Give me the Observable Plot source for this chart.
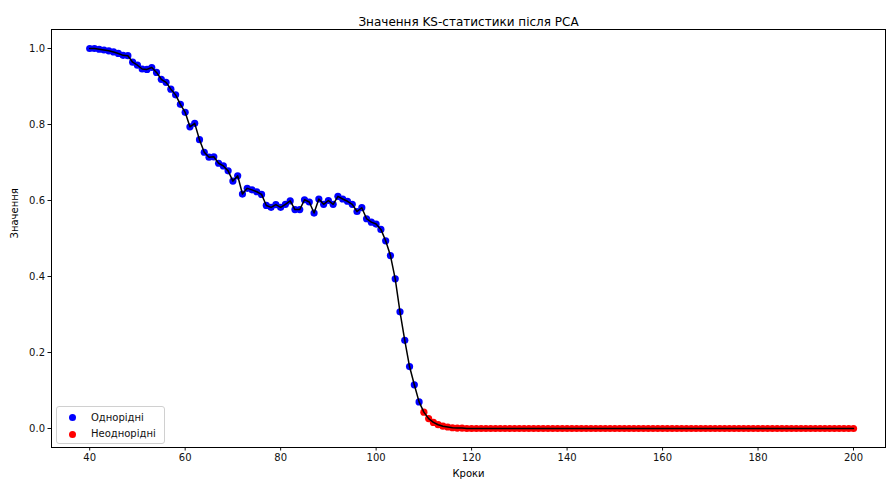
<!DOCTYPE html>
<html>
<head>
<meta charset="utf-8">
<script src="https://cdn.jsdelivr.net/npm/d3@7"></script>
<script src="https://cdn.jsdelivr.net/npm/@observablehq/plot@0.6"></script>
<style>
  html, body { margin: 0; padding: 0; background: #fff; }
  #wrap { position: relative; width: 886px; height: 484px; font-family: "DejaVu Sans", sans-serif; }
  #legend { position: absolute; left: 56px; top: 406px; width: 107px; height: 36px;
    border: 1px solid #d0d0d0; border-radius: 3px; background: rgba(255,255,255,0.8);
    font-size: 10px; color: #111; }
  .item { position: absolute; left: 0; height: 14px; line-height: 14px; }
  .sw { position: absolute; left: 12px; top: 3.5px; width: 7px; height: 7px; border-radius: 50%; }
  .lb { position: absolute; left: 34px; top: 0; white-space: nowrap; }
</style>
</head>
<body>
<div id="wrap"></div>
<script>
const steps = [40,41,42,43,44,45,46,47,48,49,50,51,52,53,54,55,56,57,58,59,
  60,61,62,63,64,65,66,67,68,69,70,71,72,73,74,75,76,77,78,79,
  80,81,82,83,84,85,86,87,88,89,90,91,92,93,94,95,96,97,98,99,
  100,101,102,103,104,105,106,107,108,109,110,111,112,113,114,115,116,117,118,119,
  120,121,122,123,124,125,126,127,128,129,130,131,132,133,134,135,136,137,138,139,
  140,141,142,143,144,145,146,147,148,149,150,151,152,153,154,155,156,157,158,159,
  160,161,162,163,164,165,166,167,168,169,170,171,172,173,174,175,176,177,178,179,
  180,181,182,183,184,185,186,187,188,189,190,191,192,193,194,195,196,197,198,199,200];

// steps 40..109 (homogeneous)
const homValues = [1.000,1.000,0.998,0.996,0.994,0.991,0.987,0.982,0.981,0.964,
  0.956,0.946,0.945,0.950,0.937,0.919,0.911,0.893,0.878,0.853,
  0.832,0.794,0.803,0.760,0.727,0.714,0.715,0.698,0.691,0.678,
  0.651,0.665,0.617,0.632,0.628,0.623,0.616,0.587,0.582,0.589,
  0.582,0.590,0.599,0.576,0.576,0.602,0.596,0.567,0.604,0.590,
  0.600,0.590,0.611,0.604,0.598,0.590,0.571,0.581,0.552,0.543,
  0.538,0.524,0.494,0.455,0.394,0.307,0.232,0.163,0.115,0.070];

// steps 110..200 (heterogeneous)
const hetValues = [0.043,0.026,0.016,0.010,0.006,0.004,0.002,0.001,0.001,0,
  0,0,0,0,0,0,0,0,0,0,
  0,0,0,0,0,0,0,0,0,0,
  0,0,0,0,0,0,0,0,0,0,
  0,0,0,0,0,0,0,0,0,0,
  0,0,0,0,0,0,0,0,0,0,
  0,0,0,0,0,0,0,0,0,0,
  0,0,0,0,0,0,0,0,0,0,
  0,0,0,0,0,0,0,0,0,0,0];

const groups = ["Однорідні", "Неоднорідні"];
const groupColors = ["#0000ff", "#ff0000"];
const xTicks = [40, 60, 80, 100, 120, 140, 160, 180, 200];
const yTicks = [0.0, 0.2, 0.4, 0.6, 0.8, 1.0];
const title = "Значення KS-статистики після PCA";
const xLabel = "Кроки";
const yLabel = "Значення";

const rows = steps.map((s, i) => ({
  step: s,
  value: i < homValues.length ? homValues[i] : hetValues[i - homValues.length],
  group: i < homValues.length ? groups[0] : groups[1]
}));

const chart = Plot.plot({
  width: 886,
  height: 484,
  marginLeft: 51,
  marginRight: 1,
  marginTop: 29,
  marginBottom: 37,
  style: { fontFamily: "DejaVu Sans, sans-serif", fontSize: "10px", color: "#111", background: "#fff" },
  x: { domain: [32, 206.7] },
  y: { domain: [-0.05, 1.05] },
  color: { domain: groups, range: groupColors },
  marks: [
    Plot.axisX({ ticks: xTicks, tickSize: 3.5, tickPadding: 3, label: null, fontSize: 10 }),
    Plot.axisY({ ticks: yTicks, tickSize: 3.5, tickPadding: 3, label: null, fontSize: 10, tickFormat: d3.format(".1f") }),
    Plot.dot(rows, { x: "step", y: "value", fill: "group", r: 3.6, stroke: null }),
    Plot.line(rows, { x: "step", y: "value", stroke: "#000", strokeWidth: 1.5 }),
    Plot.frame({ stroke: "#000", strokeWidth: 1 }),
    Plot.text([title], { frameAnchor: "top", dy: -12, fontSize: 12, fill: "#000" }),
    Plot.text([xLabel], { frameAnchor: "bottom", dy: 29, fontSize: 10, fill: "#000" }),
    Plot.text([yLabel], { frameAnchor: "left", dx: -37, rotate: -90, fontSize: 10, fill: "#000" })
  ]
});

const wrap = document.getElementById("wrap");
wrap.appendChild(chart);

const legend = document.createElement("div");
legend.id = "legend";
groups.forEach((g, i) => {
  const item = document.createElement("div");
  item.className = "item";
  item.style.top = (3.5 + i * 16.6) + "px";
  item.style.width = "100%";
  const sw = document.createElement("span");
  sw.className = "sw";
  sw.style.background = groupColors[i];
  const lb = document.createElement("span");
  lb.className = "lb";
  lb.textContent = g;
  item.appendChild(sw);
  item.appendChild(lb);
  legend.appendChild(item);
});
wrap.appendChild(legend);
</script>
</body>
</html>
